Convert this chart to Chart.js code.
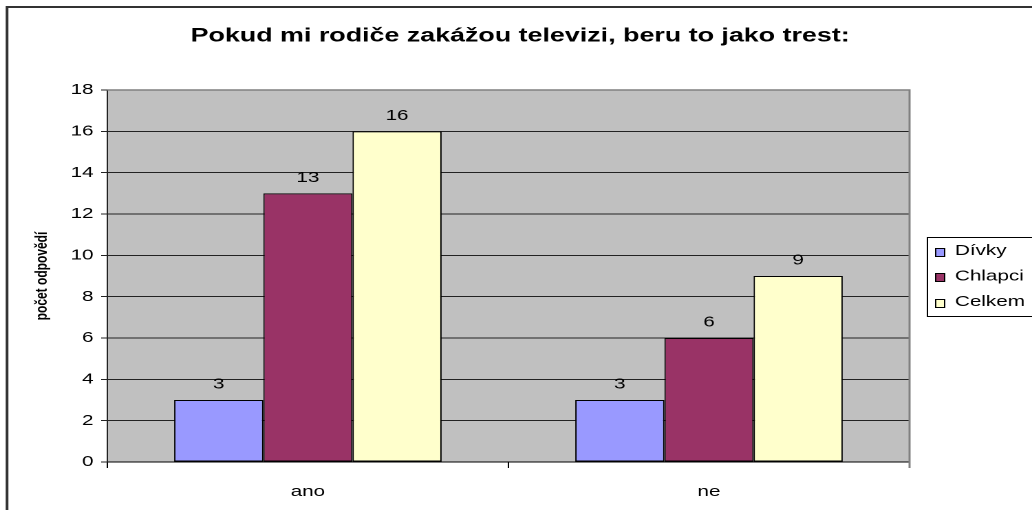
<!DOCTYPE html>
<html>
<head>
<meta charset="utf-8">
<script src="https://cdn.jsdelivr.net/npm/chart.js@4/dist/chart.umd.min.js"></script>
<style>
  html, body { margin: 0; padding: 0; background: #fff; overflow: hidden; }
  /* the original chart is a narrower excel chart stretched to full width */
  #wrap { width: 750px; height: 510px; transform: scaleX(1.376); transform-origin: 0 0; }
</style>
</head>
<body>
<div id="wrap"><canvas id="chart"></canvas></div>
<script>
const categories = ['ano', 'ne'];
const divky = [3, 3];
const chlapci = [13, 6];
const celkem = [16, 9];
const seriesNames = ['Dívky', 'Chlapci', 'Celkem'];
const seriesColors = ['#9999FF', '#993366', '#FFFFCC'];
const chartTitle = 'Pokud mi rodiče zakážou televizi, beru to jako trest:';
const axisTitle = 'počet odpovědí';

const font = 'Arial, "Liberation Sans", sans-serif';

const frame = {
    id: 'frame',
    beforeDraw(chart) {
        const {ctx, chartArea: a} = chart;
        ctx.save();
        ctx.fillStyle = '#fff';
        ctx.fillRect(0, 0, chart.width, chart.height);
        // outer frame, runs off the right and bottom edge
        ctx.strokeStyle = '#333';
        ctx.beginPath();
        ctx.moveTo(5.1, 600);
        ctx.lineTo(5.1, 7);
        ctx.lineTo(900, 7);
        ctx.lineWidth = 2;
        ctx.stroke();
        // plot area
        ctx.fillStyle = '#C0C0C0';
        ctx.fillRect(a.left, a.top, a.right - a.left, a.bottom - a.top);
        // title
        ctx.fillStyle = '#000';
        ctx.font = 'bold 19.5px ' + font;
        ctx.textAlign = 'center';
        ctx.textBaseline = 'middle';
        ctx.fillText(chartTitle, 378, 36);
        ctx.restore();
    },
    afterDatasetsDraw(chart) {
        const {ctx, chartArea: a} = chart;
        ctx.save();
        ctx.strokeStyle = '#808080';
        ctx.lineWidth = 1.5;
        ctx.beginPath();
        ctx.moveTo(a.left, a.top);
        ctx.lineTo(a.right, a.top);
        ctx.lineTo(a.right, a.bottom + 6);
        ctx.stroke();
        // value labels over bars
        ctx.fillStyle = '#000';
        ctx.font = '15px ' + font;
        ctx.textAlign = 'center';
        ctx.textBaseline = 'bottom';
        chart.data.datasets.forEach((ds, i) => {
            chart.getDatasetMeta(i).data.forEach((bar, j) => {
                ctx.fillText(ds.data[j], bar.x, bar.y - 8);
            });
        });
        ctx.restore();
    },
    afterDraw(chart) {
        // legend
        const {ctx} = chart;
        ctx.save();
        ctx.strokeStyle = '#000';
        ctx.lineWidth = 1;
        ctx.fillStyle = '#fff';
        ctx.fillRect(674, 237.5, 120, 79);
        ctx.strokeRect(674, 237.5, 120, 79);
        ctx.font = '15px ' + font;
        ctx.textBaseline = 'middle';
        chart.data.datasets.forEach((ds, i) => {
            const y = 251 + i * 25.5;
            ctx.fillStyle = ds.backgroundColor;
            ctx.fillRect(680, Math.round(y - 3.5) + 0.5, 6.5, 8);
            ctx.strokeRect(680, Math.round(y - 3.5) + 0.5, 6.5, 8);
            ctx.fillStyle = '#000';
            ctx.fillText(ds.label, 694, y);
        });
        ctx.restore();
    }
};

const datasets = [divky, chlapci, celkem].map((vals, i) => ({
    label: seriesNames[i],
    data: vals,
    backgroundColor: seriesColors[i],
    borderColor: '#000',
    borderWidth: 1,
    borderSkipped: false,
    categoryPercentage: 0.667,
    barPercentage: 1
}));

new Chart(document.getElementById('chart'), {
    type: 'bar',
    data: { labels: categories, datasets: datasets },
    plugins: [frame],
    options: {
        responsive: true,
        maintainAspectRatio: false,
        devicePixelRatio: 2,
        animation: false,
        layout: { padding: { left: 0, top: 90, right: 89, bottom: 0 } },
        plugins: {
            legend: { display: false },
            tooltip: { enabled: false },
            title: { display: false }
        },
        scales: {
            x: {
                grid: {
                    offset: true,
                    drawOnChartArea: false,
                    drawTicks: true,
                    tickLength: 6,
                    color: '#000'
                },
                border: { color: '#000', width: 1 },
                ticks: { color: '#000', font: { family: font, size: 15 }, padding: 15 },
                afterFit(scale) { scale.height = 48; }
            },
            y: {
                min: 0,
                max: 18,
                ticks: { stepSize: 2, color: '#000', font: { family: font, size: 15 }, padding: 5.5 },
                grid: { color: '#222', tickLength: 4.5, lineWidth: 1 },
                border: { color: '#222', width: 1 },
                title: {
                    display: true,
                    text: axisTitle,
                    color: '#000',
                    font: { family: font, size: 12, weight: 'bold' },
                    padding: { top: 23.3, bottom: 0 }
                },
                afterFit(scale) { scale.width = 78; }
            }
        }
    }
});
</script>
</body>
</html>
